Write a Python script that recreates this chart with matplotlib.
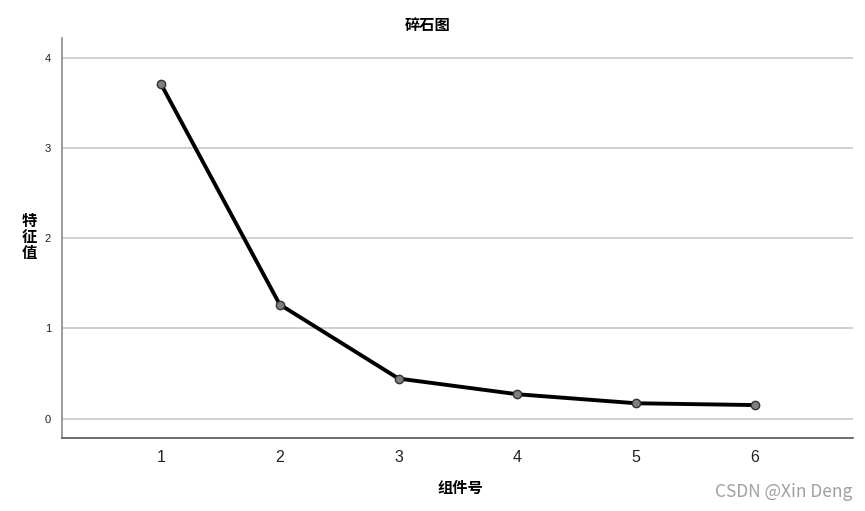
import matplotlib.pyplot as plt

plt.rcParams['font.family'] = ['Noto Sans CJK SC', 'DejaVu Sans']

components = [1, 2, 3, 4, 5, 6]
eigenvalues = [3.71, 1.265, 0.444, 0.27, 0.17, 0.15]
yticks = [0, 1, 2, 3, 4]


def plotDraw():
    fig = plt.figure(figsize=(8.65, 5.11), dpi=100)
    ax = fig.add_axes([0.0717, 0.142, 0.9143, 0.7836])

    ax.plot(components, eigenvalues, color="black", linewidth=2.8,
            marker="o", markersize=6, markerfacecolor="#7f7f7f",
            markeredgecolor="#333333", markeredgewidth=1.0, zorder=3)

    ax.set_xlim(0.167, 6.825)
    ax.set_ylim(-0.22, 4.22)
    ax.set_xticks(components)
    ax.set_yticks(yticks)
    ax.tick_params(axis="x", length=0, labelsize=11.5, pad=8, colors="#222222")
    ax.tick_params(axis="y", length=0, labelsize=8, pad=8, colors="#222222")
    for lbl in ax.get_xticklabels() + ax.get_yticklabels():
        lbl.set_family("Liberation Sans")
    ax.yaxis.grid(True, color="#c8c8c8", linewidth=1.2)
    ax.set_axisbelow(True)

    ax.spines["top"].set_visible(False)
    ax.spines["right"].set_visible(False)
    ax.spines["left"].set_color("#8a8a8a")
    ax.spines["left"].set_linewidth(1.2)
    ax.spines["bottom"].set_color("#555555")
    ax.spines["bottom"].set_linewidth(1.2)

    fig.text(0.494, 0.951, "碎石图", ha="center", va="center",
             fontsize=11, fontweight="bold")
    fig.text(0.034, 0.536, "特\n征\n值", ha="center", va="center",
             fontsize=11, fontweight="bold", linespacing=1.0)
    fig.text(0.532, 0.045, "组件号", ha="center", va="center",
             fontsize=11, fontweight="bold")
    fig.text(0.985, 0.038, "CSDN @Xin Deng", ha="right", va="center",
             fontsize=12.5, color="#a0a0a0")

    fig.savefig("out.png", dpi=100)


if __name__ == "__main__":
    plotDraw()
